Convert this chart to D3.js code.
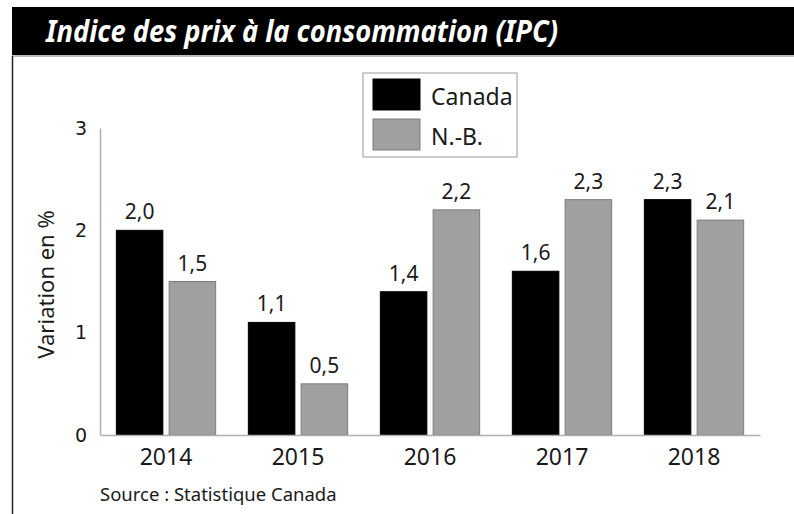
<!DOCTYPE html>
<html>
<head>
<meta charset="utf-8">
<script src="https://cdn.jsdelivr.net/npm/d3@7"></script>
<style>
  body { margin: 0; background: #fff; }
  text { font-family: "Noto Sans", "Open Sans", sans-serif; fill: #1a1a1a; }
</style>
</head>
<body>
<div id="chart"></div>
<script>
// data
const years = ['2014', '2015', '2016', '2017', '2018']
const series = ['Canada', 'N.-B.']
const canada = [2.0, 1.1, 1.4, 1.6, 2.3]
const nb = [1.5, 0.5, 2.2, 2.3, 2.1]
const yTicks = [0, 1, 2, 3]
const title = 'Indice des prix à la consommation (IPC)'
const yLabel = 'Variation en %'
const source = 'Source : Statistique Canada'

const dataset = years.map((y, i) => ({ year: y, values: [canada[i], nb[i]] }))

//dimensions
const width = 794
const height = 514
const plot = { left: 100, right: 760, top: 128, bottom: 435 }
const colors = ['#000000', '#a0a0a0']
const strokes = ['#000000', '#7c7c7c']

const svg = d3.select('#chart')
  .append('svg')
  .attr('width', width)
  .attr('height', height)

//title bar + frame
svg.append('rect')
  .attr('x', 12).attr('y', 7)
  .attr('width', width - 12).attr('height', 48)
  .attr('fill', '#000')
svg.append('line')
  .attr('x1', 12).attr('x2', width)
  .attr('y1', 56).attr('y2', 56)
  .attr('stroke', '#bdbdbd').attr('stroke-width', 2)
svg.append('line')
  .attr('x1', 12.5).attr('x2', 12.5)
  .attr('y1', 56).attr('y2', height)
  .attr('stroke', '#222').attr('stroke-width', 1.5)

svg.append('text')
  .attr('x', 46).attr('y', 42)
  .attr('textLength', 512)
  .attr('lengthAdjust', 'spacingAndGlyphs')
  .style('fill', '#fff')
  .style('font-size', '30px')
  .style('font-weight', 'bold')
  .style('font-style', 'italic')
  .text(title)

//scales
const x0 = d3.scaleBand()
  .domain(years)
  .range([plot.left, plot.right])
  .paddingInner(0.24)
  .paddingOuter(0.12)

const x1 = d3.scaleBand()
  .domain([0, 1])
  .range([0, x0.bandwidth()])
  .paddingInner(0.1)

const yScale = d3.scaleLinear()
  .domain([0, 3])
  .range([plot.bottom, plot.top])

//bars
const groups = svg.append('g')
  .selectAll('g')
  .data(dataset)
  .join('g')
  .attr('transform', d => `translate(${x0(d.year)},0)`)

groups.selectAll('rect')
  .data(d => d.values.map((v, i) => ({ v, i })))
  .join('rect')
  .attr('x', d => x1(d.i) + 0.5)
  .attr('y', d => yScale(d.v))
  .attr('width', x1.bandwidth() - 1)
  .attr('height', d => yScale(0) - yScale(d.v))
  .attr('fill', d => colors[d.i])
  .attr('stroke', d => strokes[d.i])
  .attr('stroke-width', 1)

groups.selectAll('text.val')
  .data(d => d.values.map((v, i) => ({ v, i })))
  .join('text')
  .attr('class', 'val')
  .attr('x', d => x1(d.i) + x1.bandwidth() / 2)
  .attr('y', d => yScale(d.v) - 11)
  .attr('text-anchor', 'middle')
  .style('font-size', '21px')
  .text(d => d3.format('.1f')(d.v).replace('.', ','))

//y axis
const yAxisGroup = svg.append('g')
  .attr('transform', `translate(${plot.left},0)`)
  .call(d3.axisLeft(yScale).tickValues(yTicks).tickSize(0).tickPadding(19).tickFormat(d3.format('d')))
yAxisGroup.select('.domain').attr('stroke', '#b0b0b0').attr('stroke-width', 1.5)
yAxisGroup.selectAll('text')
  .attr('text-anchor', 'middle')
  .style('font-family', '"DejaVu Sans", sans-serif')
  .style('font-size', '19px')
  .style('fill', '#1a1a1a')

//x axis
const xAxisGroup = svg.append('g')
  .attr('transform', `translate(0,${plot.bottom})`)
  .call(d3.axisBottom(x0).tickSize(0).tickPadding(14).tickSizeOuter(0))
xAxisGroup.select('.domain').attr('stroke', '#b0b0b0').attr('stroke-width', 1.5)
xAxisGroup.selectAll('text')
  .style('font-family', '"Noto Sans", sans-serif')
  .style('font-size', '23px')
  .style('fill', '#1a1a1a')

//y label
svg.append('text')
  .attr('transform', `translate(54,${(plot.top + plot.bottom) / 2 + 3}) rotate(-90)`)
  .attr('text-anchor', 'middle')
  .style('font-size', '22px')
  .text(yLabel)

//legend
const legend = svg.append('g').attr('transform', 'translate(363,73)')
legend.append('rect')
  .attr('width', 154).attr('height', 84)
  .attr('fill', '#fff')
  .attr('stroke', '#9a9a9a').attr('stroke-width', 1)
const items = legend.selectAll('g')
  .data(series)
  .join('g')
  .attr('transform', (d, i) => `translate(10,${6 + i * 40})`)
items.append('rect')
  .attr('width', 47).attr('height', 31)
  .attr('fill', (d, i) => colors[i])
  .attr('stroke', (d, i) => strokes[i])
items.append('text')
  .attr('x', 58).attr('y', 26)
  .style('font-size', '23px')
  .text(d => d)

//source
svg.append('text')
  .attr('x', 100).attr('y', 501)
  .style('font-size', '18.5px')
  .text(source)
</script>
</body>
</html>
